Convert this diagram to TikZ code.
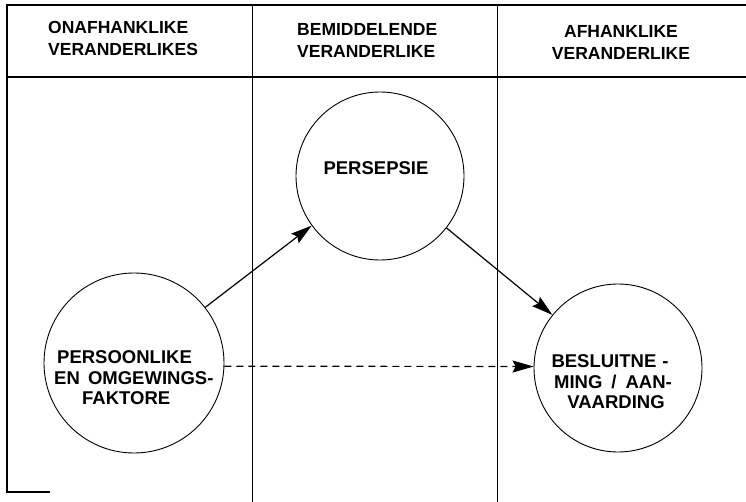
\documentclass[tikz,border=0pt]{standalone}
\usepackage{fontspec}
\setmainfont{Liberation Sans}
\usetikzlibrary{arrows.meta}
\tikzset{
  frame/.style={line width=1.3pt, black},
  divider/.style={line width=0.9pt, black},
  circ/.style={circle, draw, line width=0.9pt, inner sep=0pt},
  headtxt/.style={font=\fontsize{17.5}{22}\selectfont\bfseries, inner sep=0pt},
  circtxt/.style={font=\fontsize{18.5}{20.5}\selectfont\bfseries, inner sep=0pt},
  conn/.style={line width=1.2pt, -{Stealth[length=21pt,width=12pt,inset=3pt]}},
  dconn/.style={conn, dash pattern=on 7pt off 5pt}
}
\begin{document}
\begin{tikzpicture}[x=1pt,y=-1pt]
\useasboundingbox (0,0) rectangle (746,502);
\fill[white] (0,0) rectangle (746,502);
% frame
\draw[frame] (50,492) -- (7,492) -- (7,5) -- (746,5);
\draw[frame] (7,77) -- (746,77);
\draw[divider] (252,5) -- (252,502);
\draw[divider] (497,5) -- (497,502);
% headers
\node[headtxt, anchor=west, align=left] (h1) at (48,38) {ONAFHANKLIKE\\VERANDERLIKES};
\node[headtxt, anchor=west, align=left] (h2) at (297,40) {BEMIDDELENDE\\VERANDERLIKE};
\node[headtxt, align=center] (h3) at (621,42) {AFHANKLIKE\\VERANDERLIKE};
% circles
\node[circ, minimum size=180pt] (L) at (134,363) {};
\node[circ, minimum size=168pt] (T) at (380,176) {};
\node[circ, minimum size=168pt] (R) at (618,368) {};
% circle texts
\node[circtxt, anchor=west, align=left] (Ltxt) at (54,378) {\hspace*{3pt}PERSOONLIKE\\EN\hspace{3pt} OMGEWINGS-\\\hspace*{28pt}FAKTORE};
\node[circtxt] (Ttxt) at (376,168) {PERSEPSIE};
\node[circtxt, align=center] (Rtxt) at (613,382) {\hspace*{-6pt}BESLUITNE\hspace{6pt}-\\MING\hspace{9pt}/\hspace{9pt}AAN-\\\hspace*{6pt}VAARDING};
% connectors
\draw[conn] (L.38.7) -- (T.216.6);
\draw[conn] (T.-38.3) -- (R.141);
\draw[dconn] (L.-2) -- (R.179);
\end{tikzpicture}
\end{document}
